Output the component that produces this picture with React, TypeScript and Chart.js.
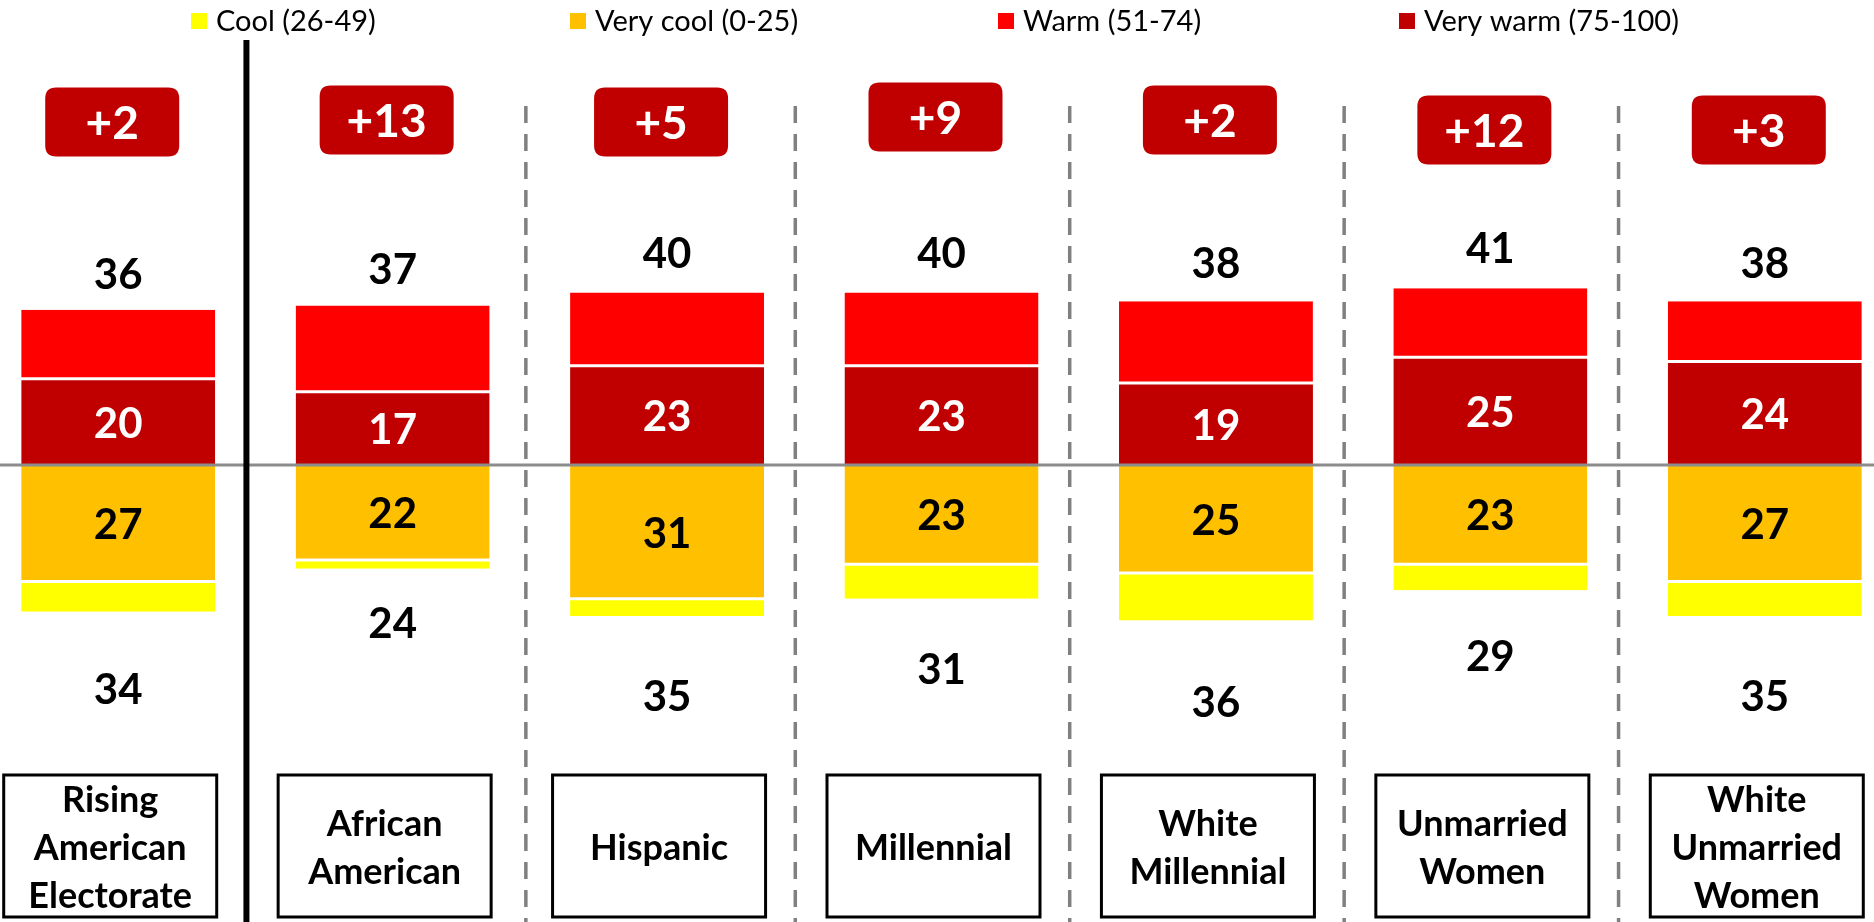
import React, { useEffect, useRef } from "react";
import { Chart, registerables } from "chart.js";

Chart.register(...registerables);

// ---- data ----
const categories: string[][] = [
  ["Rising", "American", "Electorate"],
  ["African", "American"],
  ["Hispanic"],
  ["Millennial"],
  ["White", "Millennial"],
  ["Unmarried", "Women"],
  ["White", "Unmarried", "Women"],
];
const veryWarm = [20, 17, 23, 23, 19, 25, 24];
const warm = [16, 20, 17, 17, 19, 16, 14];
const veryCool = [27, 22, 31, 23, 25, 23, 27];
const cool = [7, 2, 4, 8, 11, 6, 8];
const warmTotals = [36, 37, 40, 40, 38, 41, 38];
const coolTotals = [34, 24, 35, 31, 36, 29, 35];
const netLabels = ["+2", "+13", "+5", "+9", "+2", "+12", "+3"];

const legendItems = ["Cool (26-49)", "Very cool (0-25)", "Warm (51-74)", "Very warm (75-100)"];

// ---- styling / layout ----
const COLORS = {
  cool: "#FFFF00",
  veryCool: "#FFC000",
  warm: "#FF0000",
  veryWarm: "#C00000",
};
const legendColors = [COLORS.cool, COLORS.veryCool, COLORS.warm, COLORS.veryWarm];
const legendLeft = [191, 570, 998, 1399];
const netBoxDy = [0, -2, 0, -5, -2, 8, 8];

const FONT = "Lato, 'Open Sans', 'DejaVu Sans', sans-serif";
const SHIFT = 19;
const W = 1921;
const H = 922;

export default function App() {
  const ref = useRef<HTMLCanvasElement>(null);

  useEffect(() => {
    const canvas = ref.current!;
    const n = categories.length;

    const overlay = {
      id: "overlay",
      afterDatasetsDraw(chart: any) {
        const ctx: CanvasRenderingContext2D = chart.ctx;
        const xs = chart.scales.x;
        const ys = chart.scales.y;
        const y0 = ys.getPixelForValue(0);
        const cx = (i: number) => xs.getPixelForValue(i);
        ctx.save();

        // zero line
        ctx.strokeStyle = "#8c8c8c";
        ctx.lineWidth = 3;
        ctx.beginPath();
        ctx.moveTo(0, y0);
        ctx.lineTo(W, y0);
        ctx.stroke();

        // separators
        for (let i = 0; i < n - 1; i++) {
          const x = (cx(i) + cx(i + 1)) / 2 - (i === 1 ? 4 : 9);
          ctx.beginPath();
          if (i === 0) {
            ctx.setLineDash([]);
            ctx.strokeStyle = "#000";
            ctx.lineWidth = 6;
            ctx.moveTo(x, 40);
          } else {
            ctx.setLineDash([17, 11]);
            ctx.strokeStyle = "#808080";
            ctx.lineWidth = 3.5;
            ctx.moveTo(x, 106);
          }
          ctx.lineTo(x, H);
          ctx.stroke();
        }
        ctx.setLineDash([]);

        // value labels
        ctx.textAlign = "center";
        ctx.textBaseline = "middle";
        for (let i = 0; i < n; i++) {
          const x = cx(i);
          ctx.font = `bold 42px ${FONT}`;
          // very warm label (inside)
          ctx.fillStyle = "#fff";
          ctx.fillText(String(veryWarm[i]), x, ys.getPixelForValue(veryWarm[i] / 2) + 2);
          // very cool label (inside)
          ctx.fillStyle = "#000";
          ctx.fillText(String(veryCool[i]), x, ys.getPixelForValue(-veryCool[i] / 2) + 2);
          // totals
          ctx.fillText(String(warmTotals[i]), x, ys.getPixelForValue(warmTotals[i] * 1.233) + 2);
          ctx.fillText(String(coolTotals[i]), x, ys.getPixelForValue(-coolTotals[i] * 1.524) + 2);

          // net box
          const bw = 134, bh = 69, r = 11;
          const bx = x - 6 - bw / 2;
          const by = 122 + netBoxDy[i] - bh / 2;
          ctx.fillStyle = COLORS.veryWarm;
          ctx.beginPath();
          ctx.moveTo(bx + r, by);
          ctx.lineTo(bx + bw - r, by);
          ctx.quadraticCurveTo(bx + bw, by, bx + bw, by + r);
          ctx.lineTo(bx + bw, by + bh - r);
          ctx.quadraticCurveTo(bx + bw, by + bh, bx + bw - r, by + bh);
          ctx.lineTo(bx + r, by + bh);
          ctx.quadraticCurveTo(bx, by + bh, bx, by + bh - r);
          ctx.lineTo(bx, by + r);
          ctx.quadraticCurveTo(bx, by, bx + r, by);
          ctx.closePath();
          ctx.fill();
          ctx.fillStyle = "#fff";
          ctx.font = `bold 46px ${FONT}`;
          ctx.fillText(netLabels[i], x - 6, by + bh / 2 + 2);

          // category box
          const cw = 213;
          const left = x - 8 - cw / 2;
          const top = 775, bottom = 917;
          ctx.fillStyle = "#000";
          ctx.font = `bold 36px ${FONT}`;
          const lines = categories[i];
          const lh = 48;
          const mid = 846;
          lines.forEach((t, k) => {
            ctx.fillText(t, x - 8, mid + (k - (lines.length - 1) / 2) * lh + 2);
          });
          ctx.strokeStyle = "#000";
          ctx.lineWidth = 3;
          ctx.strokeRect(left, top, cw, bottom - top);
        }

        // legend
        ctx.textAlign = "left";
        ctx.font = `29px ${FONT}`;
        legendItems.forEach((t, k) => {
          const lx = legendLeft[k] + SHIFT;
          ctx.fillStyle = legendColors[k];
          ctx.fillRect(lx, 13, 16, 16);
          ctx.fillStyle = "#000";
          ctx.fillText(t, lx + 25, 22);
        });

        ctx.restore();
      },
    };

    const barPct = 194 / (W / categories.length);
    const common = {
      categoryPercentage: 1,
      barPercentage: barPct,
      stack: "s",
      borderColor: "#ffffff",
      borderSkipped: false as const,
    };

    const chart = new Chart(canvas, {
      type: "bar",
      data: {
        labels: categories.map((c) => c.join(" ")),
        datasets: [
          {
            ...common,
            label: "Very warm (75-100)",
            data: veryWarm,
            backgroundColor: COLORS.veryWarm,
            borderWidth: { top: 1.5, bottom: 0, left: 0, right: 0 },
          },
          {
            ...common,
            label: "Warm (51-74)",
            data: warm,
            backgroundColor: COLORS.warm,
            borderWidth: { top: 0, bottom: 1.5, left: 0, right: 0 },
          },
          {
            ...common,
            label: "Very cool (0-25)",
            data: veryCool.map((v) => -v),
            backgroundColor: COLORS.veryCool,
            borderWidth: { top: 0, bottom: 1.5, left: 0, right: 0 },
          },
          {
            ...common,
            label: "Cool (26-49)",
            data: cool.map((v) => -v),
            backgroundColor: COLORS.cool,
            borderWidth: { top: 1.5, bottom: 0, left: 0, right: 0 },
          },
        ],
      },
      options: {
        responsive: false,
        animation: false,
        devicePixelRatio: 1,
        layout: { padding: 0 },
        plugins: {
          legend: { display: false },
          tooltip: { enabled: false },
          title: { display: false },
        },
        scales: {
          x: { display: false, stacked: true, offset: true, grid: { display: false } },
          y: { display: false, stacked: true, min: -105.9, max: 107.8, grid: { display: false } },
        },
      },
      plugins: [overlay],
    });

    let alive = true;
    const fonts: any = (document as any).fonts;
    if (fonts && fonts.load) {
      Promise.all([
        fonts.load(`bold 42px Lato`),
        fonts.load(`29px Lato`),
      ]).then(() => {
        if (alive) chart.update();
      }).catch(() => {});
    }

    return () => {
      alive = false;
      chart.destroy();
    };
  }, []);

  return (
    <div
      style={{
        position: "fixed",
        left: 0,
        top: 0,
        width: 1874,
        height: 922,
        overflow: "hidden",
        background: "#fff",
      }}
    >
      <canvas
        ref={ref}
        width={W}
        height={H}
        style={{ position: "absolute", left: -SHIFT, top: 0, width: W, height: H }}
      />
    </div>
  );
}
